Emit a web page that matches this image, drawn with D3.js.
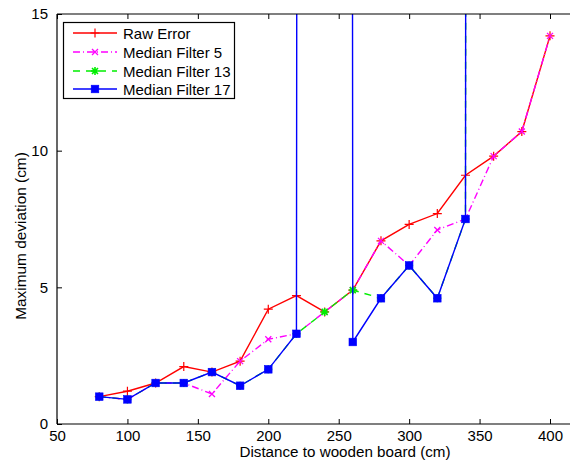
<!DOCTYPE html>
<html>
<head>
<meta charset="utf-8">
<script src="https://cdn.jsdelivr.net/npm/d3@7/dist/d3.min.js"></script>
<style>
  html, body { margin: 0; padding: 0; background: #fff; }
  svg { display: block; font-family: "Liberation Sans", Arial, sans-serif; }
</style>
</head>
<body>
<svg id="chart" width="570" height="461"></svg>
<script>
// Distances (cm) at which the deviation was measured
const distances = [80, 100, 120, 140, 160, 180, 200, 220, 240, 260, 280, 300, 320, 340, 360, 380, 400];

// Maximum deviation (cm) for each filter setting
const rawError = [1.0, 1.2, 1.5, 2.1, 1.9, 2.3, 4.2, 4.7, 4.1, 4.9, 6.7, 7.3, 7.7, 9.1, 9.8, 10.7, 14.2];
const median5  = [1.0, 0.9, 1.5, 1.5, 1.1, 2.3, 3.1, 3.3, 4.1, 4.9, 6.7, 5.8, 7.1, 7.5, 9.8, 10.7, 14.2];
const median13 = [1.0, 0.9, 1.5, 1.5, 1.9, 1.4, 2.0, 3.3, 4.1, 4.9, 4.6, 5.8, 4.6, 7.5, 1200];
const median17 = [1.0, 0.9, 1.5, 1.5, 1.9, 1.4, 2.0, 3.3, 1200, 3.0, 4.6, 5.8, 4.6, 7.5, 1200];

const xTicks = [50, 100, 150, 200, 250, 300, 350, 400];
const yTicks = [0, 5, 10, 15];
const seriesNames = ["Raw Error", "Median Filter 5", "Median Filter 13", "Median Filter 17"];

const W = 570, H = 461;
const plotLeft = 57, plotTop = 14, plotBottom = 424;
const FONT = "'Liberation Sans', Arial, sans-serif";

const svg = d3.select("#chart");

const x = d3.scaleLinear().domain([50, 400]).range([plotLeft, 550]);
const y = d3.scaleLinear().domain([0, 15]).range([plotBottom, plotTop]);

const series = [
  { name: seriesNames[0], values: rawError, color: "#ff0000", dash: null,      marker: "plus" },
  { name: seriesNames[1], values: median5,  color: "#ff00ff", dash: "7,3,1,3", marker: "cross" },
  { name: seriesNames[2], values: median13, color: "#00ee00", dash: "7,6",     marker: "star" },
  { name: seriesNames[3], values: median17, color: "#0000ff", dash: null,      marker: "square" }
];

// clip region for the data
svg.append("defs").append("clipPath").attr("id", "plotClip")
  .append("rect").attr("x", plotLeft).attr("y", plotTop)
  .attr("width", W - plotLeft).attr("height", plotBottom - plotTop);

// marker drawing helpers
function drawMarker(g, type, cx, cy, color) {
  if (type === "plus") {
    g.append("path").attr("d", `M${cx - 4.5},${cy}H${cx + 4.5}M${cx},${cy - 4.5}V${cy + 4.5}`)
      .attr("stroke", color).attr("stroke-width", 1.2).attr("fill", "none");
  } else if (type === "cross") {
    g.append("path").attr("d", `M${cx - 3},${cy - 3}L${cx + 3},${cy + 3}M${cx - 3},${cy + 3}L${cx + 3},${cy - 3}`)
      .attr("stroke", color).attr("stroke-width", 1.3).attr("fill", "none");
  } else if (type === "star") {
    g.append("path").attr("d",
      `M${cx - 4},${cy}H${cx + 4}M${cx},${cy - 4}V${cy + 4}` +
      `M${cx - 3},${cy - 3}L${cx + 3},${cy + 3}M${cx - 3},${cy + 3}L${cx + 3},${cy - 3}`)
      .attr("stroke", color).attr("stroke-width", 1.6).attr("fill", "none");
  } else if (type === "square") {
    g.append("rect").attr("x", cx - 3.8).attr("y", cy - 3.8).attr("width", 7.6).attr("height", 7.6)
      .attr("fill", color).attr("stroke", color).attr("stroke-width", 0.6);
  }
}

const plot = svg.append("g").attr("clip-path", "url(#plotClip)");

const line = d3.line()
  .x((d, i) => x(distances[i]))
  .y(d => y(d));

series.forEach(s => {
  const g = plot.append("g");
  g.append("path")
    .attr("d", line(s.values))
    .attr("fill", "none")
    .attr("stroke", s.color)
    .attr("stroke-width", 1.4)
    .attr("stroke-dasharray", s.dash);
  s.values.forEach((v, i) => {
    const cy = y(v);
    if (cy >= plotTop - 10 && cy <= plotBottom + 10) drawMarker(g, s.marker, x(distances[i]), cy, s.color);
  });
});

// axes frame
const axisG = svg.append("g");
axisG.append("line").attr("x1", plotLeft).attr("x2", W).attr("y1", plotBottom).attr("y2", plotBottom)
  .attr("stroke", "#000").attr("stroke-width", 1.2);
axisG.append("line").attr("x1", plotLeft).attr("x2", W).attr("y1", plotTop).attr("y2", plotTop)
  .attr("stroke", "#000").attr("stroke-width", 1.2);
axisG.append("line").attr("x1", plotLeft).attr("x2", plotLeft).attr("y1", plotTop).attr("y2", plotBottom)
  .attr("stroke", "#000").attr("stroke-width", 1.2);

// x axis (bottom) with inward ticks
const xAxis = d3.axisBottom(x).tickValues(xTicks).tickSize(-5).tickPadding(6).tickFormat(d3.format("d"));
const xg = svg.append("g").attr("transform", `translate(0,${plotBottom})`).call(xAxis);
xg.select(".domain").remove();
xg.selectAll("text").attr("font-size", 15).attr("fill", "#000").attr("font-family", FONT);

// top ticks
const xTop = d3.axisTop(x).tickValues(xTicks).tickSize(-5).tickFormat("");
const xtg = svg.append("g").attr("transform", `translate(0,${plotTop})`).call(xTop);
xtg.select(".domain").remove();

// y axis with inward ticks
const yAxis = d3.axisLeft(y).tickValues(yTicks).tickSize(-5).tickPadding(9).tickFormat(d3.format("d"));
const yg = svg.append("g").attr("transform", `translate(${plotLeft},0)`).call(yAxis);
yg.select(".domain").remove();
yg.selectAll("text").attr("font-size", 15).attr("fill", "#000").attr("font-family", FONT);

// axis titles
svg.append("text")
  .attr("x", 345).attr("y", 457)
  .attr("text-anchor", "middle").attr("font-size", 15.2).attr("font-family", FONT)
  .text("Distance to wooden board (cm)");

svg.append("text")
  .attr("transform", `translate(26,236) rotate(-90)`)
  .attr("text-anchor", "middle").attr("font-size", 15.4).attr("font-family", FONT)
  .text("Maximum deviation (cm)");

// legend
const lg = svg.append("g");
lg.append("rect").attr("x", 63.5).attr("y", 22.5).attr("width", 171).attr("height", 76)
  .attr("fill", "#fff").attr("stroke", "#000").attr("stroke-width", 1.2);
const rowY = [33, 52, 71, 89];
series.forEach((s, i) => {
  const ry = rowY[i];
  lg.append("line").attr("x1", 73).attr("x2", 117).attr("y1", ry).attr("y2", ry)
    .attr("stroke", s.color).attr("stroke-width", 1.4).attr("stroke-dasharray", s.dash);
  drawMarker(lg, s.marker, 95, ry, s.color);
  lg.append("text").attr("x", 123).attr("y", ry + 5.5)
    .attr("font-size", 15).attr("fill", "#000").attr("font-family", FONT).text(s.name);
});
</script>
</body>
</html>
